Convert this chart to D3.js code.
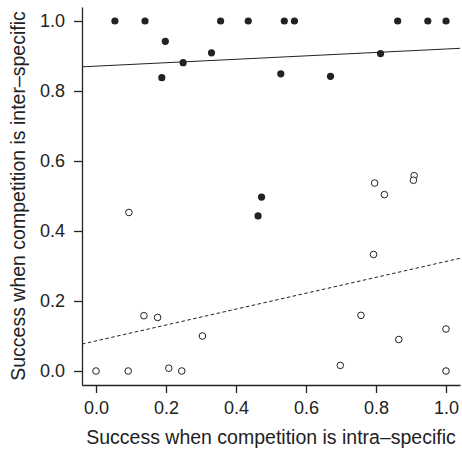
<!DOCTYPE html>
<html>
<head>
<meta charset="utf-8">
<script src="https://cdn.jsdelivr.net/npm/d3@7"></script>
<style>
body { margin: 0; background: #fff; }
svg text { font-family: "Liberation Sans", Arial, Helvetica, sans-serif; fill: #222; }
</style>
</head>
<body>
<script>
// inter-specific group (filled)
var interX = [0.054, 0.14, 0.198, 0.188, 0.249, 0.330, 0.356, 0.435, 0.528, 0.538, 0.567, 0.670, 0.813, 0.862, 0.948, 1.0, 0.473, 0.463];
var interY = [1.0, 1.0, 0.942, 0.838, 0.881, 0.909, 1.0, 1.0, 0.849, 1.0, 1.0, 0.842, 0.907, 1.0, 1.0, 1.0, 0.497, 0.443];
// intra-specific group (open)
var intraX = [0.094, 0.796, 0.824, 0.909, 0.907, 0.793, 0.0, 0.092, 0.137, 0.176, 0.208, 0.245, 0.304, 0.698, 0.757, 0.865, 1.0, 1.0];
var intraY = [0.453, 0.537, 0.504, 0.558, 0.545, 0.333, 0.0, 0.0, 0.158, 0.153, 0.008, 0.0, 0.100, 0.016, 0.159, 0.090, 0.120, 0.0];
// fitted lines: intercept, slope
var fitSolid = [0.871, 0.049];
var fitDashed = [0.086, 0.227];
var ticks = [0, 0.2, 0.4, 0.6, 0.8, 1.0];
var xTitle = "Success when competition is intra\u2013specific";
var yTitle = "Success when competition is inter\u2013specific";

var W = 462, H = 451;
var svg = d3.select("body").append("svg").attr("width", W).attr("height", H);

var x = d3.scaleLinear().domain([-0.04, 1.04]).range([82, 460]);
var y = d3.scaleLinear().domain([-0.04, 1.04]).range([385, 7]);

var ink = "#222";

// axes
var gx = svg.append("g").attr("transform", "translate(0,385)")
    .call(d3.axisBottom(x).tickValues(ticks).tickFormat(d3.format(".1f"))
        .tickSize(8).tickSizeOuter(0).tickPadding(8));
var gy = svg.append("g").attr("transform", "translate(82,0)")
    .call(d3.axisLeft(y).tickValues(ticks).tickFormat(d3.format(".1f"))
        .tickSize(8).tickSizeOuter(0).tickPadding(9));
[gx, gy].forEach(function (g) {
    g.selectAll("path.domain").attr("stroke", ink).attr("stroke-width", 1.3);
    g.selectAll(".tick line").attr("stroke", ink).attr("stroke-width", 1.3);
    g.selectAll(".tick text").attr("font-size", 18).attr("fill", ink)
        .style("font-family", "'Liberation Sans', Arial, sans-serif");
});

// regression lines, clipped to domain
function fitLine(f, dash) {
    var d = x.domain();
    svg.append("line")
        .attr("x1", x(d[0])).attr("y1", y(f[0] + f[1] * d[0]))
        .attr("x2", x(d[1])).attr("y2", y(f[0] + f[1] * d[1]))
        .attr("stroke", ink).attr("stroke-width", 1)
        .attr("stroke-dasharray", dash);
}
fitLine(fitSolid, null);
fitLine(fitDashed, "3.5,2.5");

// points
svg.append("g").selectAll("circle").data(d3.range(intraX.length)).enter()
    .append("circle")
    .attr("cx", function (i) { return x(intraX[i]); })
    .attr("cy", function (i) { return y(intraY[i]); })
    .attr("r", 3.3).attr("fill", "#fff").attr("stroke", ink).attr("stroke-width", 1);

svg.append("g").selectAll("circle").data(d3.range(interX.length)).enter()
    .append("circle")
    .attr("cx", function (i) { return x(interX[i]); })
    .attr("cy", function (i) { return y(interY[i]); })
    .attr("r", 3.6).attr("fill", ink);

// titles
svg.append("text").attr("x", 271).attr("y", 444)
    .attr("text-anchor", "middle").attr("font-size", 19.5).text(xTitle);
svg.append("text").attr("transform", "translate(25,196) rotate(-90)")
    .attr("text-anchor", "middle").attr("font-size", 19.5).text(yTitle);
</script>
</body>
</html>
